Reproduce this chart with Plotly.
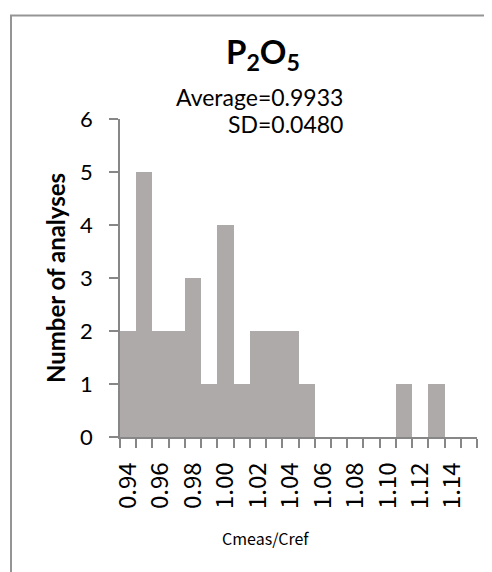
import plotly.graph_objects as go

# Data
bins = [0.94, 0.95, 0.96, 0.97, 0.98, 0.99, 1.00, 1.01, 1.02, 1.03, 1.04,
        1.05, 1.06, 1.07, 1.08, 1.09, 1.10, 1.11, 1.12, 1.13, 1.14, 1.15]
counts = [2, 5, 2, 2, 3, 1, 4, 1, 2, 2, 2,
          1, 0, 0, 0, 0, 0, 1, 0, 1, 0, 0]
bin_width = 0.01
title_text = "P<sub>2</sub>O<sub>5</sub>"
stats_lines = ["Average=0.9933", "SD=0.0480"]
x_title = "Cmeas/Cref"
y_title = "Number of analyses"

# page offset of the default html body margin (8px)
OFF = 8
W, H = 492 - OFF, 572 - OFF
L, R, T, B = 120 - OFF, 15, 119 - OFF, 135
pw, ph = W - L - R, H - T - B

def px_x(px):
    return (px - OFF - L) / pw

def px_y(py):
    return (H - B - (py - OFF)) / ph

AX = "#878787"

fig = go.Figure()
fig.add_trace(go.Bar(
    x=bins, y=counts, width=[bin_width] * len(bins),
    marker=dict(color="#ADAAA9", line=dict(width=0)),
    showlegend=False, hoverinfo="x+y",
))

fig.update_layout(
    width=W, height=H, autosize=False,
    margin=dict(l=L, r=R, t=T, b=B, pad=0),
    paper_bgcolor="white", plot_bgcolor="white",
    bargap=0,
    font=dict(family="Lato", color="#000000"),
    xaxis=dict(
        range=[bins[0] - bin_width / 2, bins[-1] + bin_width / 2],
        tick0=0.94, dtick=0.02, tickformat=".2f",
        ticks="", tickangle=-90,
        tickfont=dict(family="Noto Sans CJK JP", size=24, color="#000000"),
        ticklabelstandoff=14,
        showline=True, linecolor=AX, linewidth=1.5,
        showgrid=False, zeroline=False,
        minor=dict(ticks="outside", ticklen=9, tickwidth=1.5, tickcolor=AX,
                   tick0=bins[0] - bin_width / 2, dtick=bin_width, showgrid=False),
    ),
    yaxis=dict(
        range=[0, 6], dtick=1, tick0=0,
        ticks="outside", ticklen=9, tickwidth=1.5, tickcolor=AX,
        tickfont=dict(family="Lato", size=22, color="#000000"),
        ticklabelstandoff=12,
        showline=True, linecolor=AX, linewidth=1.5,
        showgrid=False, zeroline=False,
        title=dict(text=y_title, standoff=8,
                   font=dict(family="Lato", size=24, color="#000000", weight="bold")),
    ),
    shapes=[dict(
        type="rect", xref="paper", yref="paper",
        x0=px_x(11), x1=px_x(700), y0=px_y(900), y1=px_y(15.5),
        line=dict(color="#959595", width=2), fillcolor="rgba(0,0,0,0)",
        layer="below",
    )],
    annotations=[
        dict(text="<b>" + title_text + "</b>", xref="paper", yref="paper",
             x=px_x(263), y=px_y(54), xanchor="center", yanchor="middle",
             showarrow=False, font=dict(family="Lato", size=33, color="#000000")),
        dict(text=stats_lines[0], xref="paper", yref="paper",
             x=px_x(345), y=px_y(97), xanchor="right", yanchor="middle",
             showarrow=False, font=dict(family="Lato", size=23, color="#000000")),
        dict(text=stats_lines[1], xref="paper", yref="paper",
             x=px_x(345), y=px_y(124), xanchor="right", yanchor="middle",
             showarrow=False, font=dict(family="Lato", size=23, color="#000000")),
        dict(text=x_title, xref="paper", yref="paper",
             x=px_x(265), y=px_y(538), xanchor="center", yanchor="middle",
             showarrow=False, font=dict(family="Noto Sans CJK JP", size=16, color="#000000")),
    ],
)

fig.write_html("out.html")
